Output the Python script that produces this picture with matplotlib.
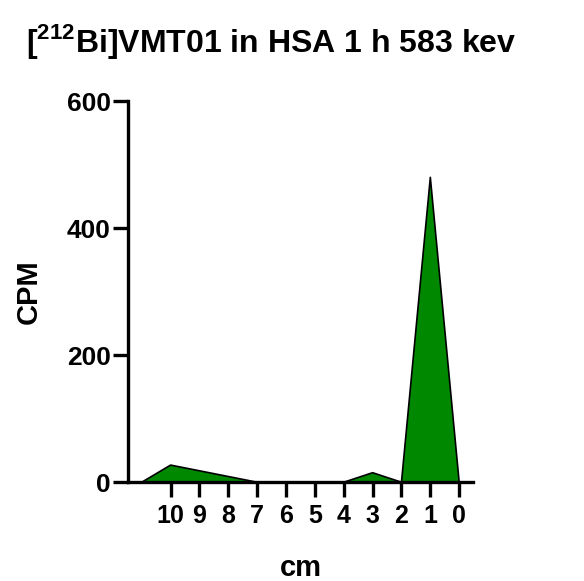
import matplotlib
matplotlib.use("Agg")
import matplotlib.pyplot as plt

plt.rcParams['font.family'] = ['Liberation Sans', 'DejaVu Sans']
plt.rcParams['font.weight'] = 'bold'
plt.rcParams['mathtext.fontset'] = 'custom'
plt.rcParams['mathtext.rm'] = 'Liberation Sans:bold'
plt.rcParams['mathtext.bf'] = 'Liberation Sans:bold'

cm = [11, 10, 9, 8, 7, 6, 5, 4, 3, 2, 1, 0]
cpm = [0, 27, 18, 9, 0, 0, 0, 0, 15, 0, 480, 0]
xticks = [10, 9, 8, 7, 6, 5, 4, 3, 2, 1, 0]
yticks = [0, 200, 400, 600]

fig = plt.figure(figsize=(5.84, 5.81), dpi=100)
ax = fig.add_axes([0.219, 0.170, 0.591, 0.656])

ax.fill_between(cm, cpm, 0, color='#008800', edgecolor='none')
ax.plot(cm, cpm, color='black', lw=1.2)

ax.set_xlim(11.48, -0.48)
ax.set_ylim(0, 600)
ax.set_xticks(xticks)
ax.set_xticklabels([str(t) for t in xticks])
ax.set_yticks(yticks)

for s in ['top', 'right']:
    ax.spines[s].set_visible(False)
for s in ['left', 'bottom']:
    ax.spines[s].set_linewidth(2.4)
ax.tick_params(width=2.4, length=10.5, labelsize=18)
ax.tick_params(axis='x', pad=5)
ax.tick_params(axis='y', pad=2, labelsize=19)
for lab in ax.get_xticklabels() + ax.get_yticklabels():
    lab.set_fontweight('bold')

ax.set_xlabel('cm', fontsize=21, fontweight='bold', labelpad=19)
ax.set_ylabel('CPM', fontsize=21, fontweight='bold', labelpad=17)
fig.text(0.465, 0.928, r'[$^{212}$Bi]VMT01 in HSA 1 h 583 kev',
         ha='center', va='center', fontsize=23, fontweight='bold')

fig.savefig('out.png', dpi=100)
